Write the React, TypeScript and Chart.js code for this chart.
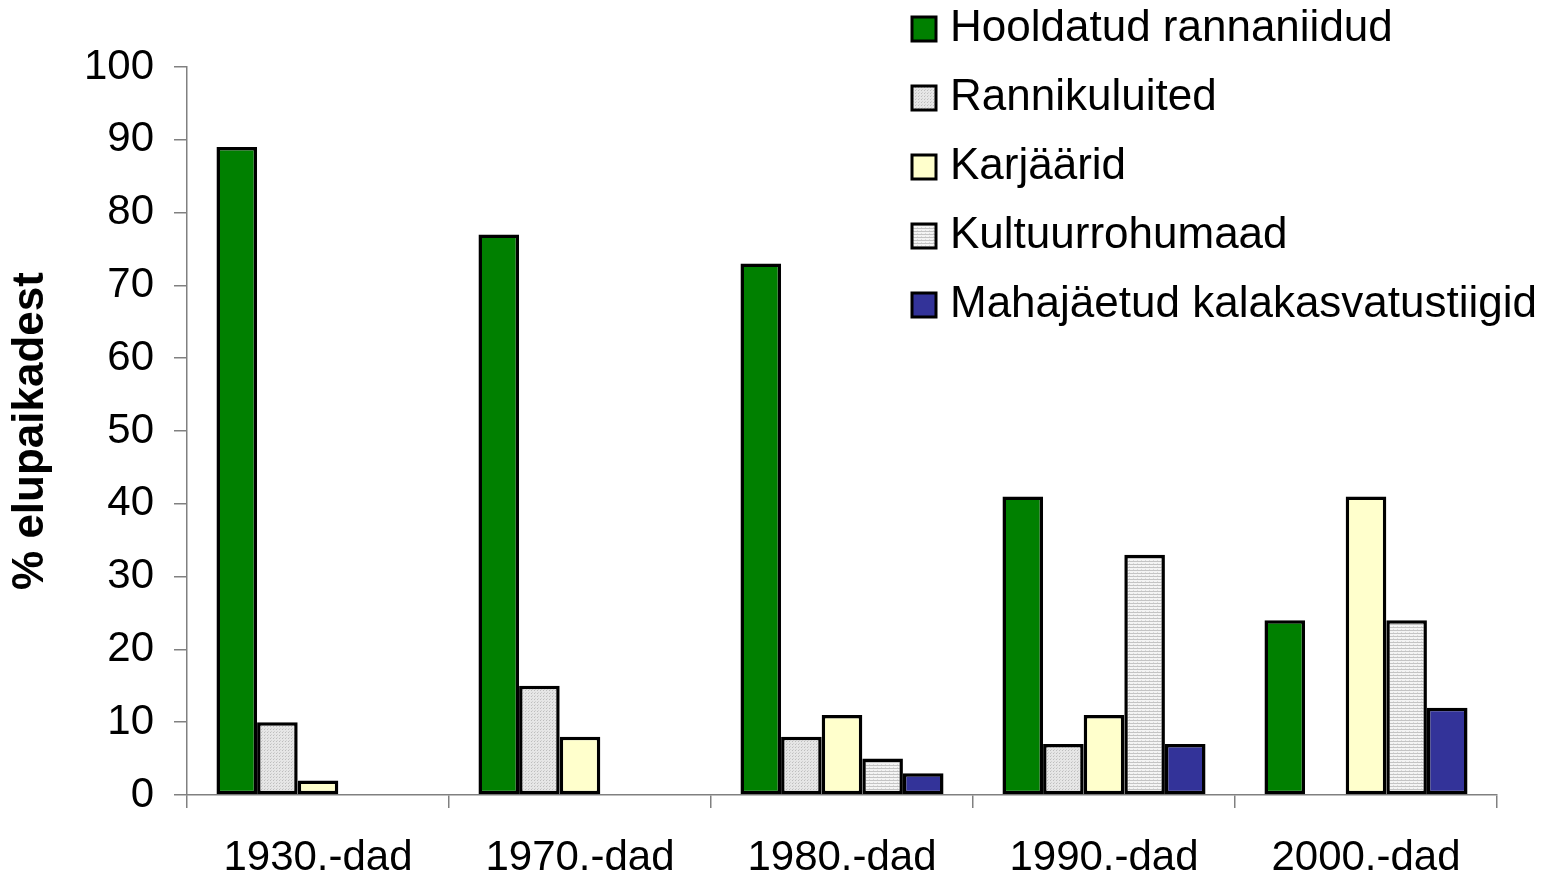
import React, { useEffect, useRef } from "react";
import { Chart, registerables } from "chart.js";

Chart.register(...registerables);

const categories = ["1930.-dad", "1970.-dad", "1980.-dad", "1990.-dad", "2000.-dad"];
const seriesNames = [
  "Hooldatud rannaniidud",
  "Rannikuluited",
  "Karjäärid",
  "Kultuurrohumaad",
  "Mahajäetud kalakasvatustiigid",
];
const hooldatud = [89, 77, 73, 41, 24];
const rannikuluited = [10, 15, 8, 7, 0];
const karjaarid = [2, 8, 11, 11, 41];
const kultuur = [0, 0, 5, 33, 24];
const mahajaetud = [0, 0, 3, 7, 12];
const yTicks = [0, 10, 20, 30, 40, 50, 60, 70, 80, 90, 100];
const yTitle = "% elupaikadest";

const FONT = "'Liberation Sans', Arial, Helvetica, sans-serif";

function makeDotPattern(): CanvasPattern | string {
  const c = document.createElement("canvas");
  c.width = 3;
  c.height = 3;
  const g = c.getContext("2d");
  if (!g) return "#dcdcdc";
  g.fillStyle = "#e6e6e6";
  g.fillRect(0, 0, 3, 3);
  g.fillStyle = "#bdbdbd";
  g.fillRect(0, 0, 1, 1);
  g.fillStyle = "#d0d0d0";
  g.fillRect(1, 2, 1, 1);
  const p = g.createPattern(c, "repeat");
  return p || "#dcdcdc";
}

function makeStripePattern(): CanvasPattern | string {
  const c = document.createElement("canvas");
  c.width = 4;
  c.height = 3;
  const g = c.getContext("2d");
  if (!g) return "#d8d8d8";
  g.fillStyle = "#f4f4f4";
  g.fillRect(0, 0, 4, 3);
  g.fillStyle = "#c4c4c4";
  g.fillRect(0, 0, 4, 1);
  g.fillStyle = "#dadada";
  g.fillRect(1, 2, 1, 1);
  const p = g.createPattern(c, "repeat");
  return p || "#d8d8d8";
}

const legendPlugin = {
  id: "customLegend",
  afterDraw(chart: any) {
    const ctx = chart.ctx as CanvasRenderingContext2D;
    const boxX = 912;
    const boxSize = 24;
    const textX = 950;
    const firstCenter = 29;
    const step = 69;
    ctx.save();
    ctx.font = `44px ${FONT}`;
    ctx.textBaseline = "middle";
    ctx.textAlign = "left";
    chart.data.datasets.forEach((ds: any, i: number) => {
      const cy = firstCenter + i * step;
      ctx.fillStyle = ds.backgroundColor;
      ctx.fillRect(boxX, cy - boxSize / 2, boxSize, boxSize);
      ctx.lineWidth = 3;
      ctx.strokeStyle = "#000";
      ctx.strokeRect(boxX, cy - boxSize / 2, boxSize, boxSize);
      ctx.fillStyle = "#000";
      ctx.fillText(ds.label, textX, cy);
    });
    ctx.restore();
  },
};

export default function App() {
  const ref = useRef<HTMLCanvasElement | null>(null);

  useEffect(() => {
    if (!ref.current) return;
    const dots = makeDotPattern();
    const stripes = makeStripePattern();
    const fills = ["#008000", dots, "#FFFFCC", stripes, "#333399"];
    const values = [hooldatud, rannikuluited, karjaarid, kultuur, mahajaetud];

    const chart = new Chart(ref.current, {
      type: "bar",
      data: {
        labels: categories,
        datasets: seriesNames.map((name, i) => ({
          label: name,
          data: values[i],
          backgroundColor: fills[i] as any,
          borderColor: "#000000",
          borderWidth: 3.5,
          borderSkipped: false,
          categoryPercentage: 0.775,
          barPercentage: 1,
        })),
      },
      options: {
        animation: false,
        responsive: true,
        maintainAspectRatio: false,
        layout: { padding: { left: 0, right: 51, top: 67, bottom: 0 } },
        plugins: {
          legend: { display: false },
          tooltip: { enabled: false },
          title: { display: false },
        },
        scales: {
          x: {
            type: "category",
            offset: true,
            grid: {
              offset: true,
              drawOnChartArea: false,
              drawTicks: true,
              tickLength: 13,
              color: "#808080",
              lineWidth: 1.5,
            },
            border: { display: true, color: "#808080", width: 1.5 },
            ticks: {
              color: "#000",
              font: { family: FONT, size: 42 },
              padding: 25,
              maxRotation: 0,
              autoSkip: false,
            },
            afterFit(scale: any) {
              scale.height = 82;
            },
          },
          y: {
            min: 0,
            max: 100,
            afterBuildTicks(scale: any) {
              scale.ticks = yTicks.map((v) => ({ value: v }));
            },
            grid: {
              drawOnChartArea: false,
              drawTicks: true,
              tickLength: 13,
              color: "#808080",
              lineWidth: 1.5,
            },
            border: { display: true, color: "#808080", width: 1.5 },
            ticks: {
              color: "#000",
              font: { family: FONT, size: 42 },
              padding: 20,
            },
            title: {
              display: true,
              text: yTitle,
              color: "#000",
              font: { family: FONT, size: 44, weight: "bold" },
              padding: { top: 4, bottom: 0 },
            },
            afterFit(scale: any) {
              scale.width = 187;
            },
          },
        },
      },
      plugins: [legendPlugin],
    });
    return () => chart.destroy();
  }, []);

  return (
    <div style={{ position: "absolute", left: 0, top: 0, width: 1548, height: 877 }}>
      <canvas ref={ref} />
    </div>
  );
}
